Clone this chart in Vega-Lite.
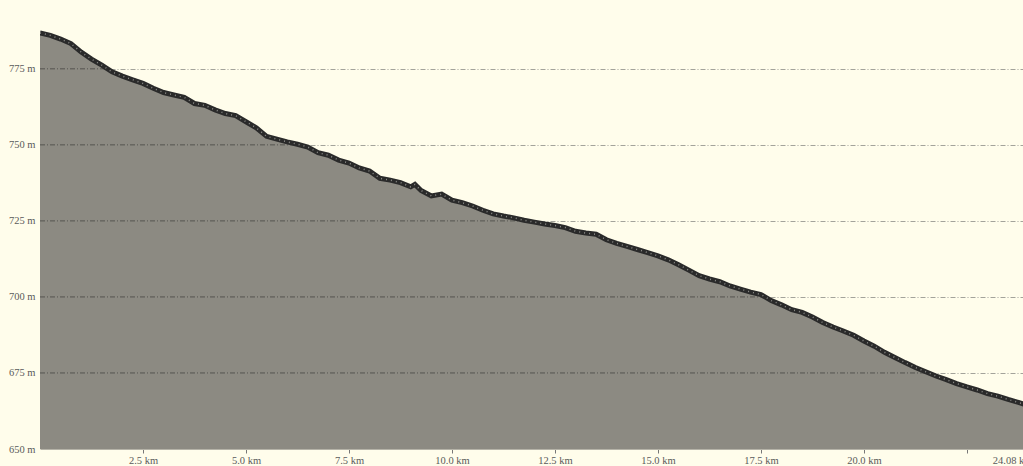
{
  "$schema": "https://vega.github.io/schema/vega-lite/v6.json",
  "autosize": {"type": "none"},
  "padding": {"left": 40, "top": 8, "right": 0, "bottom": 17},
  "width": 992,
  "height": 441,
  "background": "#FFFDEB",
  "config": {
    "view": {"stroke": null},
    "axis": {"labelFont": "Liberation Serif", "labelFontSize": 10.5, "labelColor": "#5A5A5A"}
  },
  "datasets": {
    "profile": [
      {"km": 0, "elev": 786.8}, {"km": 0.25, "elev": 786.0}, {"km": 0.5, "elev": 784.8}, {"km": 0.75, "elev": 783.3},
      {"km": 1.0, "elev": 780.5}, {"km": 1.25, "elev": 778.2}, {"km": 1.5, "elev": 776.2}, {"km": 1.75, "elev": 774.0},
      {"km": 2.0, "elev": 772.6}, {"km": 2.25, "elev": 771.4}, {"km": 2.5, "elev": 770.2}, {"km": 2.75, "elev": 768.6},
      {"km": 3.0, "elev": 767.2}, {"km": 3.25, "elev": 766.4}, {"km": 3.5, "elev": 765.6}, {"km": 3.75, "elev": 763.6},
      {"km": 4.0, "elev": 763.0}, {"km": 4.25, "elev": 761.5}, {"km": 4.5, "elev": 760.3}, {"km": 4.75, "elev": 759.6},
      {"km": 5.0, "elev": 757.6}, {"km": 5.25, "elev": 755.6}, {"km": 5.5, "elev": 752.8}, {"km": 5.75, "elev": 751.9},
      {"km": 6.0, "elev": 751.0}, {"km": 6.25, "elev": 750.2}, {"km": 6.5, "elev": 749.3}, {"km": 6.75, "elev": 747.4},
      {"km": 7.0, "elev": 746.6}, {"km": 7.25, "elev": 745.0}, {"km": 7.5, "elev": 744.0}, {"km": 7.75, "elev": 742.4},
      {"km": 8.0, "elev": 741.4}, {"km": 8.25, "elev": 739.0}, {"km": 8.5, "elev": 738.4}, {"km": 8.75, "elev": 737.6},
      {"km": 9.0, "elev": 736.2}, {"km": 9.1, "elev": 737.0}, {"km": 9.25, "elev": 735.0}, {"km": 9.5, "elev": 733.2},
      {"km": 9.75, "elev": 733.8}, {"km": 10.0, "elev": 731.8}, {"km": 10.25, "elev": 731.0}, {"km": 10.5, "elev": 729.9},
      {"km": 10.75, "elev": 728.5}, {"km": 11.0, "elev": 727.3}, {"km": 11.25, "elev": 726.6}, {"km": 11.5, "elev": 726.0},
      {"km": 11.75, "elev": 725.2}, {"km": 12.0, "elev": 724.6}, {"km": 12.25, "elev": 724.0}, {"km": 12.5, "elev": 723.5},
      {"km": 12.75, "elev": 722.8}, {"km": 13.0, "elev": 721.6}, {"km": 13.25, "elev": 721.0}, {"km": 13.5, "elev": 720.6},
      {"km": 13.75, "elev": 718.8}, {"km": 14.0, "elev": 717.6}, {"km": 14.25, "elev": 716.6}, {"km": 14.5, "elev": 715.6},
      {"km": 14.75, "elev": 714.6}, {"km": 15.0, "elev": 713.5}, {"km": 15.25, "elev": 712.2}, {"km": 15.5, "elev": 710.6},
      {"km": 15.75, "elev": 708.8}, {"km": 16.0, "elev": 707.0}, {"km": 16.25, "elev": 705.9}, {"km": 16.5, "elev": 705.0},
      {"km": 16.75, "elev": 703.6}, {"km": 17.0, "elev": 702.6}, {"km": 17.25, "elev": 701.6}, {"km": 17.5, "elev": 700.8},
      {"km": 17.75, "elev": 698.8}, {"km": 18.0, "elev": 697.4}, {"km": 18.25, "elev": 695.8}, {"km": 18.5, "elev": 694.9},
      {"km": 18.75, "elev": 693.4}, {"km": 19.0, "elev": 691.6}, {"km": 19.25, "elev": 690.1}, {"km": 19.5, "elev": 688.8},
      {"km": 19.75, "elev": 687.4}, {"km": 20.0, "elev": 685.5}, {"km": 20.25, "elev": 683.8}, {"km": 20.5, "elev": 681.8},
      {"km": 20.75, "elev": 680.1}, {"km": 21.0, "elev": 678.4}, {"km": 21.25, "elev": 676.8}, {"km": 21.5, "elev": 675.4},
      {"km": 21.75, "elev": 674.0}, {"km": 22.0, "elev": 672.8}, {"km": 22.25, "elev": 671.5}, {"km": 22.5, "elev": 670.4},
      {"km": 22.75, "elev": 669.4}, {"km": 23.0, "elev": 668.2}, {"km": 23.25, "elev": 667.4}, {"km": 23.5, "elev": 666.3},
      {"km": 23.75, "elev": 665.3}, {"km": 24.08, "elev": 664.0}
    ],
    "gridcross": [
      {"elev": 775, "start": 0, "cross": 1.64},
      {"elev": 750, "start": 0, "cross": 6.3},
      {"elev": 725, "start": 0, "cross": 11.8},
      {"elev": 700, "start": 0, "cross": 17.62},
      {"elev": 675, "start": 0, "cross": 21.6}
    ]
  },
  "layer": [
    {
      "data": {"name": "profile"},
      "mark": {"type": "area", "color": "#8C8A82", "clip": true},
      "encoding": {
        "x": {
          "field": "km", "type": "quantitative",
          "scale": {"domain": [0, 24.08], "nice": false, "zero": false},
          "axis": {
            "title": null,
            "values": [2.5, 5, 7.5, 10, 12.5, 15, 17.5, 20, 22.5, 24.08],
            "labelExpr": "datum.value == 22.5 ? '' : (datum.value > 24 ? '24.08 km' : format(datum.value, '.1f') + ' km')",
            "labelAlign": {"condition": {"test": "datum.value > 24", "value": "right"}, "value": "center"},
            "grid": false,
            "tickSize": 4,
            "tickColor": "#777777",
            "domainColor": "#B5B3A8",
            "labelPadding": 2,
            "labelFlush": false,
            "labelOverlap": false
          }
        },
        "y": {
          "field": "elev", "type": "quantitative",
          "scale": {"domain": [650, 795], "nice": false, "zero": false},
          "axis": {
            "title": null,
            "values": [650, 675, 700, 725, 750, 775],
            "labelExpr": "datum.value + ' m'",
            "ticks": false,
            "labelPadding": 5,
            "domain": false,
            "grid": true,
            "gridColor": {"condition": {"test": "datum.value == 650", "value": null}, "value": "#A3A39A"},
            "gridDash": [5, 2, 1, 2],
            "gridWidth": 1,
            "labelFlush": false
          }
        }
      }
    },
    {
      "data": {"name": "gridcross"},
      "mark": {"type": "rule", "color": "#55544F", "strokeDash": [5, 2, 1, 2], "strokeWidth": 1},
      "encoding": {
        "x": {"field": "start", "type": "quantitative"},
        "x2": {"field": "cross"},
        "y": {"field": "elev", "type": "quantitative"}
      }
    },
    {
      "data": {"name": "profile"},
      "mark": {"type": "line", "color": "#2A2A2A", "strokeWidth": 5, "clip": true},
      "encoding": {
        "x": {"field": "km", "type": "quantitative"},
        "y": {"field": "elev", "type": "quantitative"}
      }
    },
    {
      "data": {"name": "profile"},
      "mark": {"type": "line", "color": "#A5A5A0", "strokeWidth": 1.5, "strokeDash": [1, 4], "opacity": 0.8, "clip": true},
      "encoding": {
        "x": {"field": "km", "type": "quantitative"},
        "y": {"field": "elev", "type": "quantitative"}
      }
    }
  ]
}
